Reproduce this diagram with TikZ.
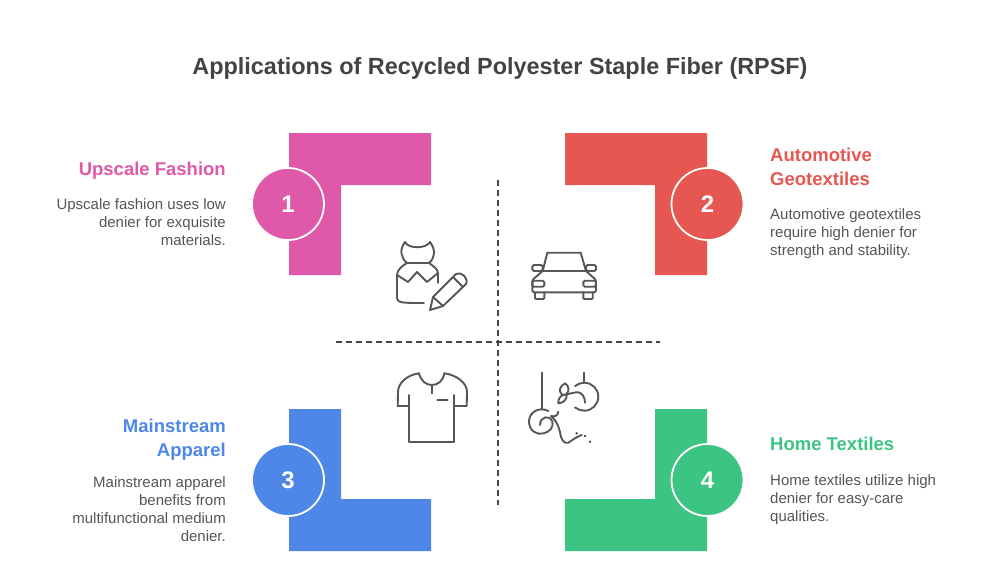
\documentclass[tikz,border=0pt]{standalone}
\usepackage{fontspec}
\setmainfont{Liberation Sans}
\usepackage{xcolor}
\usetikzlibrary{positioning}
\definecolor{fashionpink}{HTML}{DF58A9}
\definecolor{autored}{HTML}{E65751}
\definecolor{apparelblue}{HTML}{4E87E8}
\definecolor{homegreen}{HTML}{3CC582}
\definecolor{inkgrey}{HTML}{434343}
\definecolor{bodygrey}{HTML}{555555}
\tikzset{
	numcirc/.style={circle,draw=white,line width=1.8pt,minimum size=72pt,inner sep=0pt,text=white,font=\fontsize{24}{24}\selectfont\bfseries},
	headtext/.style={inner sep=0pt,font=\fontsize{18.5}{24}\selectfont\bfseries},
	bodytext/.style={inner sep=0pt,text=bodygrey,font=\fontsize{15}{18}\selectfont},
	icon/.style={draw=inkgrey!90,line width=1.9pt,line cap=round,line join=round},
	divider/.style={draw=inkgrey,line width=1.4pt,dash pattern=on 5.5pt off 4.5pt}
}
\begin{document}
\begin{tikzpicture}[x=1pt,y=-1pt]
	\useasboundingbox (0,0) rectangle (1000,586);
	\node[inner sep=0pt,text=inkgrey,font=\fontsize{23.4}{28}\selectfont\bfseries] (title) at (500,68) {Applications of Recycled Polyester Staple Fiber (RPSF)};

	% corner blocks
	\fill[fashionpink] (289,133) -- (431,133) -- (431,185) -- (341,185) -- (341,275) -- (289,275) -- cycle;
	\fill[autored] (565,133) -- (707,133) -- (707,275) -- (655,275) -- (655,185) -- (565,185) -- cycle;
	\fill[apparelblue] (289,409) -- (341,409) -- (341,499) -- (431,499) -- (431,551) -- (289,551) -- cycle;
	\fill[homegreen] (655,409) -- (707,409) -- (707,551) -- (565,551) -- (565,499) -- (655,499) -- cycle;

	\node[numcirc,fill=fashionpink] (num1) at (288,204) {1};
	\node[numcirc,fill=autored] (num2) at (707.5,204) {2};
	\node[numcirc,fill=apparelblue] (num3) at (288,480) {3};
	\node[numcirc,fill=homegreen] (num4) at (707.5,480) {4};

	% dashed cross
	\coordinate (crosstop) at (498,180);
	\coordinate (crossbot) at (498,505);
	\coordinate (crossleft) at (336,342);
	\coordinate (crossright) at (660,342);
	\draw[divider] (crosstop) -- (crossbot);
	\draw[divider] (crossleft) -- (crossright);

	% left texts
	\node[headtext,text=fashionpink,anchor=east] (head1) at (226,171) {Upscale Fashion};
	\node[bodytext,anchor=north east,align=right] (body1) at (226,198) {Upscale fashion uses low\\denier for exquisite\\materials.};
	\node[headtext,text=apparelblue,anchor=north east,align=right] (head3) at (226,419) {Mainstream\\Apparel};
	\node[bodytext,anchor=north east,align=right] (body3) at (226,476) {Mainstream apparel\\benefits from\\multifunctional medium\\denier.};

	% right texts
	\node[headtext,text=autored,anchor=north west,align=left] (head2) at (770,148) {Automotive\\Geotextiles};
	\node[bodytext,anchor=north west,align=left] (body2) at (770,208) {Automotive geotextiles\\require high denier for\\strength and stability.};
	\node[headtext,text=homegreen,anchor=west] (head4) at (770,444) {Home Textiles};
	\node[bodytext,anchor=north west,align=left] (body4) at (770,474) {Home textiles utilize high\\denier for easy-care\\qualities.};

	% dress and pencil
	\draw[icon] (405,242) .. controls (408,249) and (426,249) .. (430,242);
	\draw[icon] (405,242) .. controls (399,250) and (401,258) .. (407,263) -- (429,263) .. controls (435,258) and (436,250) .. (430,242);
	\draw[icon] (407,263) .. controls (402,266) and (397,270) .. (397,275) -- (397,298) .. controls (397,303) and (403,303) .. (424,303);
	\draw[icon] (429,263) .. controls (433,266) and (438,269) .. (438,273) -- (438,283);
	\draw[icon] (397,275) -- (408,282) -- (417,272) -- (427,282) -- (438,273);
	\draw[icon] (430,310) -- (433,297) -- (456,274) .. controls (461,271) and (469,278) .. (466,284) -- (443,306) -- cycle;
	\draw[icon] (433,297) -- (443,306);
	\draw[icon] (453,277) -- (463,287);

	% car
	\draw[icon] (542.7,271) -- (547.3,252.7) -- (580.7,252.7) -- (586,271) -- cycle;
	\draw[icon,rounded corners=1.5pt] (532.3,265) rectangle (542.7,271);
	\draw[icon,rounded corners=1.5pt] (586,265) rectangle (596,271);
	\draw[icon,rounded corners=1.5pt] (542.7,271) -- (532.3,280) -- (532.3,292.3) -- (596,292.3) -- (596,280) -- (586,271);
	\draw[icon,rounded corners=1.5pt] (532.3,280.7) rectangle (544.3,286.7);
	\draw[icon,rounded corners=1.5pt] (583.3,280.7) rectangle (596,286.7);
	\draw[icon,rounded corners=1pt] (535,292.3) -- (535,299) -- (544.3,299) -- (544.3,292.3);
	\draw[icon,rounded corners=1pt] (583.3,292.3) -- (583.3,299) -- (592.7,299) -- (592.7,292.3);

	% t-shirt
	\draw[icon] (419,373.3) .. controls (421,381) and (426,385) .. (431.7,385) .. controls (438,385) and (443,381) .. (444.3,373.3);
	\draw[icon] (431.7,385) -- (431.7,393.3);
	\draw[icon] (419,373.3) .. controls (407,375) and (398,383) .. (398,392) -- (397.7,406) -- (409,406);
	\draw[icon] (444.3,373.3) .. controls (457,375) and (467,383) .. (467,392) -- (466.7,406) -- (454.3,406);
	\draw[icon] (409,395) -- (409,442) -- (454.3,442) -- (454.3,395);
	\draw[icon] (437.3,400) -- (447.7,400);

	% thread and leaf
	\draw[icon] (541.7,372.7) -- (541.7,409.3);
	\draw[icon] (584.3,372.7) -- (584.3,382.7);
	\draw[icon] (548.5,411) .. controls (538,406) and (529,413) .. (529,421.5) .. controls (529,431) and (537,435) .. (543,433.5) .. controls (550,432) and (554,427) .. (552.3,421) .. controls (550,415) and (540,416) .. (540,425);
	\draw[icon] (575,386) .. controls (578,384) and (581,382.7) .. (584.3,382.7) .. controls (592,382.7) and (598.3,389) .. (598.3,396.7) .. controls (598.3,404.4) and (592,410.7) .. (584.3,410.7) .. controls (581,410.7) and (578,409.5) .. (575,407.5);
	\draw[icon] (585,402.7) .. controls (585,397) and (582,393) .. (578.3,392.3) .. controls (574,392) and (570,394) .. (563.5,395);
	\draw[icon] (562,394.5) .. controls (558,391) and (560,386) .. (565,383.3) .. controls (569,386) and (570,391) .. (566,394.5);
	\draw[icon] (566.7,395) .. controls (567,400) and (563,403) .. (558.3,403.3) .. controls (558,399) and (560,396) .. (564,394.5);
	\draw[icon] (558.3,411.7) .. controls (558,416) and (554,417) .. (551,416) .. controls (556,420) and (558.5,426) .. (560,432) .. controls (561,440) and (564,444) .. (568.3,442.7) .. controls (571,441) and (576,437) .. (581.7,435);
	\fill[inkgrey] (576.7,433.3) circle (1.3pt) (585,436) circle (1.3pt) (590,441.7) circle (1.3pt);
\end{tikzpicture}
\end{document}
